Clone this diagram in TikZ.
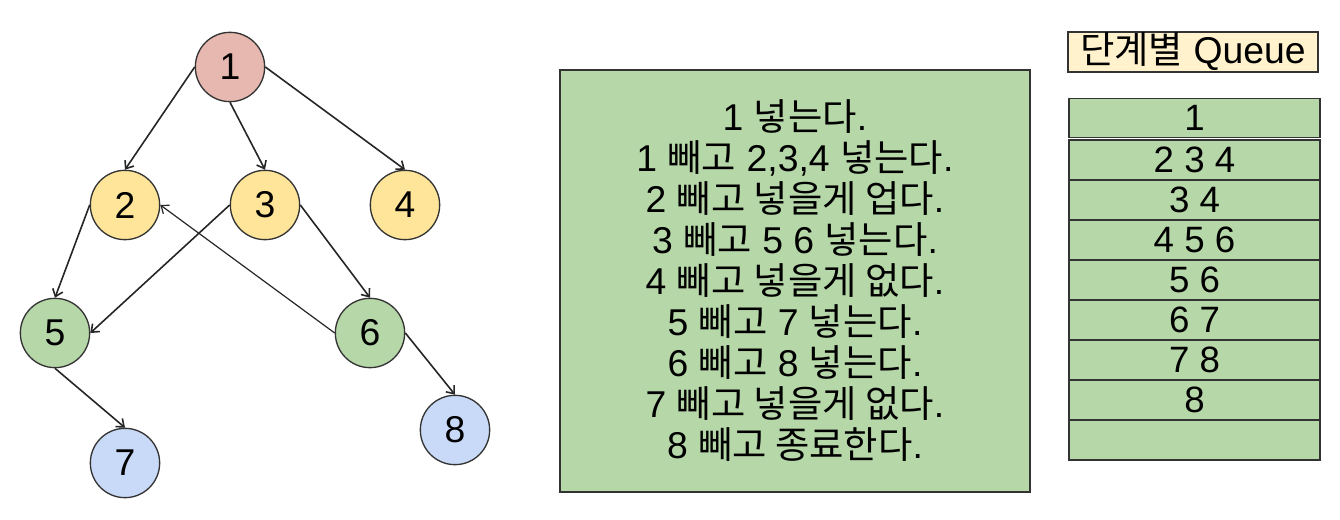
\documentclass[tikz,border=0pt]{standalone}
\usepackage{fontspec}
\setmainfont{Liberation Sans}
\newfontfamily\kr{Noto Sans CJK KR}
\usetikzlibrary{arrows.meta}
\definecolor{rootred}{HTML}{E6B8AF}
\definecolor{levelyellow}{HTML}{FFE599}
\definecolor{levelgreen}{HTML}{B6D7A8}
\definecolor{levelblue}{HTML}{C9DAF8}
\definecolor{titlecream}{HTML}{FFF2CC}
\definecolor{linegray}{HTML}{333333}
\tikzset{
  vertex/.style={circle, draw=linegray, line width=1pt, minimum size=52pt, inner sep=0pt, font=\fontsize{28}{32}\selectfont},
  edge/.style={-{Straight Barb[length=5pt,width=8pt]}, line width=1.2pt, draw=black!85},
  qcell/.style={rectangle, draw=linegray, line width=1.1pt, fill=levelgreen, minimum width=188pt, minimum height=30pt, inner sep=0pt, font=\fontsize{27.5}{30}\selectfont}
}
\begin{document}
\begin{tikzpicture}[x=0.75pt, y=-0.75pt]
        \useasboundingbox (0,0) rectangle (1340,520);

        \node[vertex, fill=rootred] (n1) at (230,67) {1};
        \node[vertex, fill=levelyellow] (n2) at (125,205) {2};
        \node[vertex, fill=levelyellow] (n3) at (265,205) {3};
        \node[vertex, fill=levelyellow] (n4) at (405,205) {4};
        \node[vertex, fill=levelgreen] (n5) at (55,333) {5};
        \node[vertex, fill=levelgreen] (n6) at (370,333) {6};
        \node[vertex, fill=levelblue] (n7) at (125,463) {7};
        \node[vertex, fill=levelblue] (n8) at (455,430) {8};

        \draw[edge] (n1.west) -- (n2.north);
        \draw[edge] (n1.south) -- (n3.north);
        \draw[edge] (n1.east) -- (n4.north);
        \draw[edge] (n2.west) -- (n5.north);
        \draw[edge] (n3.west) -- (n5.east);
        \draw[edge] (n3.east) -- (n6.north);
        \draw[edge, line width=0.9pt] (n6.west) -- (n2.east);
        \draw[edge] (n5.south) -- (n7.north);
        \draw[edge] (n6.east) -- (n8.north);

        \node[draw=linegray, line width=1.1pt, fill=levelgreen, minimum width=352.5pt, minimum height=316.5pt,
              align=center, font=\fontsize{28}{30.75}\selectfont] (steps) at (795,281)
          {1 {\kr 넣는다}.\\
           1 {\kr 빼고} 2,3,4 {\kr 넣는다}.\\
           2 {\kr 빼고 넣을게 업다}.\\
           3 {\kr 빼고} 5 6 {\kr 넣는다}.\\
           4 {\kr 빼고 넣을게 없다}.\\
           5 {\kr 빼고} 7 {\kr 넣는다}.\\
           6 {\kr 빼고} 8 {\kr 넣는다}.\\
           7 {\kr 빼고 넣을게 없다}.\\
           8 {\kr 빼고 종료한다}.};

        \node[draw=linegray, line width=1.1pt, fill=titlecream, minimum width=187.5pt, minimum height=30pt,
              inner sep=0pt, font=\fontsize{28}{30}\selectfont] (title) at (1193,52) {{\kr 단계별} Queue};

        \node[qcell, minimum height=29.5pt] (q0) at (1194.5,118) {1};
        \foreach \t [count=\i] in {{2 3 4},{3 4},{4 5 6},{5 6},{6 7},{7 8},{8},{}}
          \node[qcell] (q\i) at (1194.5,160+40*\i-40) {\t};
\end{tikzpicture}
\end{document}
